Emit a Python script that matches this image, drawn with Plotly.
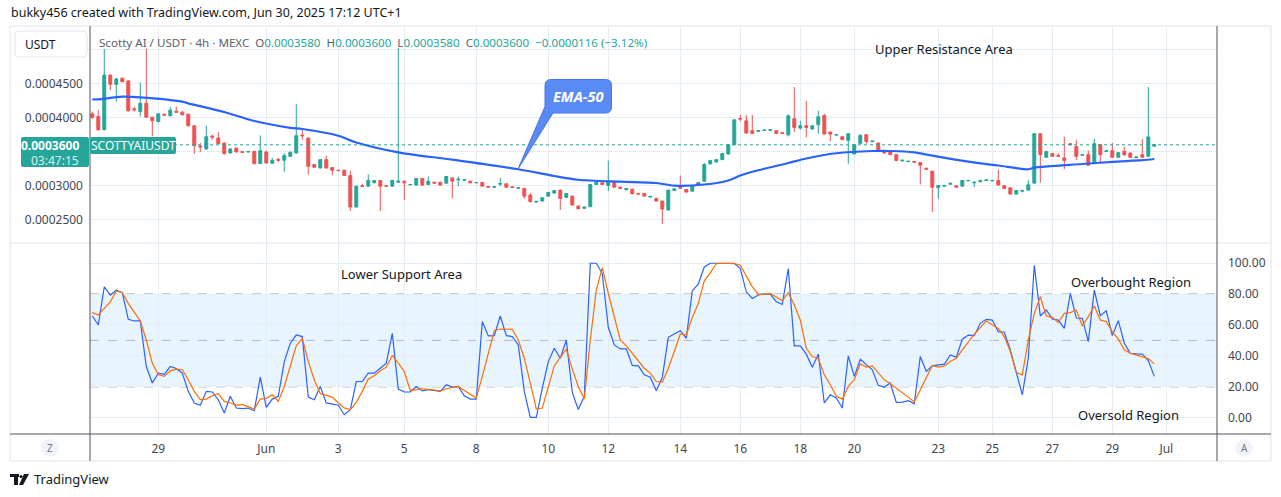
import plotly.graph_objects as go

W, H = 1281, 497


def X(px):
    return px / W


def Y(py):
    return 1 - py / H


# ---------------- data (4h candles, Scotty AI / USDT) ----------------
open_ = [
    0.0004053, 0.0004014, 0.0003820, 0.0004621, 0.0004485, 0.0004573, 0.0004534, 0.0004126, 0.0004087, 0.0004209,
    0.0004005, 0.0003942, 0.0004048, 0.0004024, 0.0004092, 0.0004077, 0.0004048, 0.0003879, 0.0003582, 0.0003539,
    0.0003728, 0.0003699, 0.0003626, 0.0003480, 0.0003553, 0.0003500, 0.0003495, 0.0003505, 0.0003325, 0.0003495,
    0.0003330, 0.0003388, 0.0003374, 0.0003432, 0.0003480, 0.0003743, 0.0003699, 0.0003311, 0.0003262, 0.0003383,
    0.0003267, 0.0003228, 0.0003228, 0.0003150, 0.0002689, 0.0003000, 0.0002995, 0.0003044, 0.0003078, 0.0003000,
    0.0002995, 0.0003053, 0.0003068, 0.0003014, 0.0003010, 0.0003107, 0.0003019, 0.0003053, 0.0003053, 0.0003039,
    0.0003116, 0.0003087, 0.0003082, 0.0003068, 0.0003044, 0.0003048, 0.0002990, 0.0002980, 0.0003024, 0.0003029,
    0.0002985, 0.0002966, 0.0002961, 0.0002864, 0.0002762, 0.0002777, 0.0002849, 0.0002893, 0.0002937, 0.0002830,
    0.0002849, 0.0002704, 0.0002670, 0.0002694, 0.0003019, 0.0003044, 0.0003005, 0.0003053, 0.0002980, 0.0002942,
    0.0002951, 0.0002888, 0.0002888, 0.0002835, 0.0002816, 0.0002777, 0.0002646, 0.0002932, 0.0002976, 0.0002946,
    0.0002922, 0.0003010, 0.0003068, 0.0003320, 0.0003349, 0.0003383, 0.0003466, 0.0003602, 0.0003985, 0.0003951,
    0.0003806, 0.0003796, 0.0003811, 0.0003811, 0.0003806, 0.0003777, 0.0003747, 0.0003980, 0.0003845, 0.0003879,
    0.0003830, 0.0003893, 0.0004029, 0.0003786, 0.0003743, 0.0003718, 0.0003665, 0.0003466, 0.0003621, 0.0003747,
    0.0003646, 0.0003626, 0.0003519, 0.0003495, 0.0003456, 0.0003364, 0.0003354, 0.0003354, 0.0003340, 0.0003257,
    0.0003214, 0.0002971, 0.0002995, 0.0003024, 0.0003000, 0.0002995, 0.0003073, 0.0003044, 0.0003058, 0.0003078,
    0.0003073, 0.0003078, 0.0003000, 0.0002971, 0.0002879, 0.0002922, 0.0002937, 0.0003039, 0.0003762, 0.0003417,
    0.0003471, 0.0003442, 0.0003408, 0.0003616, 0.0003573, 0.0003447, 0.0003456, 0.0003325, 0.0003602, 0.0003505,
    0.0003514, 0.0003417, 0.0003505, 0.0003480, 0.0003413, 0.0003456, 0.0003432, 0.0003580,
]
close = [
    0.0004000, 0.0003820, 0.0004621, 0.0004485, 0.0004563, 0.0004524, 0.0004097, 0.0004112, 0.0004209, 0.0004005,
    0.0003951, 0.0004053, 0.0004034, 0.0004107, 0.0004077, 0.0004039, 0.0003879, 0.0003587, 0.0003568, 0.0003718,
    0.0003713, 0.0003616, 0.0003471, 0.0003539, 0.0003495, 0.0003490, 0.0003500, 0.0003325, 0.0003514, 0.0003335,
    0.0003374, 0.0003374, 0.0003442, 0.0003490, 0.0003733, 0.0003733, 0.0003286, 0.0003272, 0.0003383, 0.0003262,
    0.0003228, 0.0003223, 0.0003150, 0.0002689, 0.0002995, 0.0002990, 0.0003078, 0.0003078, 0.0002995, 0.0002995,
    0.0003078, 0.0003068, 0.0003044, 0.0003019, 0.0003107, 0.0003010, 0.0003068, 0.0003039, 0.0003010, 0.0003136,
    0.0003068, 0.0003097, 0.0003087, 0.0003044, 0.0003048, 0.0002995, 0.0002980, 0.0002985, 0.0003034, 0.0002980,
    0.0002976, 0.0002971, 0.0002849, 0.0002767, 0.0002772, 0.0002825, 0.0002903, 0.0002932, 0.0002816, 0.0002888,
    0.0002718, 0.0002665, 0.0002689, 0.0003019, 0.0003053, 0.0003019, 0.0003068, 0.0002980, 0.0002961, 0.0002961,
    0.0002883, 0.0002879, 0.0002849, 0.0002845, 0.0002777, 0.0002660, 0.0002937, 0.0002956, 0.0002966, 0.0002908,
    0.0003000, 0.0003048, 0.0003311, 0.0003369, 0.0003383, 0.0003471, 0.0003602, 0.0003966, 0.0003976, 0.0003772,
    0.0003767, 0.0003806, 0.0003815, 0.0003820, 0.0003767, 0.0003767, 0.0004024, 0.0003854, 0.0003879, 0.0003854,
    0.0003879, 0.0004010, 0.0003757, 0.0003757, 0.0003747, 0.0003675, 0.0003762, 0.0003602, 0.0003738, 0.0003650,
    0.0003655, 0.0003505, 0.0003480, 0.0003456, 0.0003369, 0.0003374, 0.0003359, 0.0003345, 0.0003301, 0.0003243,
    0.0002980, 0.0003005, 0.0003005, 0.0003034, 0.0002980, 0.0003078, 0.0003078, 0.0003053, 0.0003078, 0.0003087,
    0.0003078, 0.0003010, 0.0002961, 0.0002879, 0.0002932, 0.0002932, 0.0003014, 0.0003762, 0.0003456, 0.0003500,
    0.0003432, 0.0003432, 0.0003369, 0.0003602, 0.0003432, 0.0003456, 0.0003301, 0.0003616, 0.0003456, 0.0003514,
    0.0003417, 0.0003485, 0.0003456, 0.0003417, 0.0003422, 0.0003417, 0.0003716, 0.0003600,
]
high = [
    0.0004087, 0.0004112, 0.0005000, 0.0004625, 0.0004582, 0.0004587, 0.0004548, 0.0004160, 0.0004514, 0.0005010,
    0.0004010, 0.0004063, 0.0004053, 0.0004155, 0.0004160, 0.0004097, 0.0004053, 0.0003883, 0.0003626, 0.0003883,
    0.0003747, 0.0003786, 0.0003631, 0.0003553, 0.0003558, 0.0003505, 0.0003505, 0.0003510, 0.0003738, 0.0003514,
    0.0003408, 0.0003408, 0.0003480, 0.0003505, 0.0004194, 0.0003820, 0.0003704, 0.0003316, 0.0003388, 0.0003442,
    0.0003272, 0.0003233, 0.0003233, 0.0003223, 0.0002999, 0.0003029, 0.0003165, 0.0003083, 0.0003083, 0.0003005,
    0.0003083, 0.0005017, 0.0003073, 0.0003024, 0.0003112, 0.0003112, 0.0003136, 0.0003058, 0.0003058, 0.0003141,
    0.0003121, 0.0003136, 0.0003092, 0.0003073, 0.0003053, 0.0003053, 0.0002995, 0.0002990, 0.0003116, 0.0003034,
    0.0002990, 0.0002976, 0.0002966, 0.0002893, 0.0002777, 0.0002830, 0.0002908, 0.0002937, 0.0002942, 0.0002893,
    0.0002854, 0.0002709, 0.0002694, 0.0003024, 0.0003058, 0.0003048, 0.0003369, 0.0003058, 0.0002985, 0.0002966,
    0.0002956, 0.0002893, 0.0002893, 0.0002849, 0.0002820, 0.0002782, 0.0002942, 0.0002961, 0.0003150, 0.0002951,
    0.0003005, 0.0003053, 0.0003335, 0.0003374, 0.0003388, 0.0003480, 0.0003607, 0.0003971, 0.0004039, 0.0004039,
    0.0004039, 0.0003811, 0.0003820, 0.0003825, 0.0003811, 0.0003782, 0.0004048, 0.0004446, 0.0003951, 0.0004242,
    0.0003883, 0.0004097, 0.0004053, 0.0003791, 0.0003752, 0.0003723, 0.0003767, 0.0003607, 0.0003757, 0.0003752,
    0.0003660, 0.0003631, 0.0003524, 0.0003500, 0.0003461, 0.0003379, 0.0003364, 0.0003359, 0.0003345, 0.0003262,
    0.0003219, 0.0003010, 0.0003010, 0.0003058, 0.0003005, 0.0003083, 0.0003083, 0.0003058, 0.0003083, 0.0003092,
    0.0003083, 0.0003238, 0.0003005, 0.0002976, 0.0002937, 0.0002937, 0.0003082, 0.0003767, 0.0003767, 0.0003514,
    0.0003476, 0.0003480, 0.0003718, 0.0003621, 0.0003675, 0.0003461, 0.0003514, 0.0003689, 0.0003612, 0.0003519,
    0.0003626, 0.0003495, 0.0003573, 0.0003485, 0.0003427, 0.0003684, 0.0004446, 0.0003600,
]
low = [
    0.0003980, 0.0003806, 0.0003815, 0.0004398, 0.0004233, 0.0004514, 0.0004087, 0.0004087, 0.0004014, 0.0004000,
    0.0003723, 0.0003927, 0.0004029, 0.0004019, 0.0004072, 0.0004029, 0.0003869, 0.0003466, 0.0003495, 0.0003529,
    0.0003675, 0.0003612, 0.0003456, 0.0003476, 0.0003490, 0.0003485, 0.0003490, 0.0003311, 0.0003320, 0.0003325,
    0.0003325, 0.0003349, 0.0003199, 0.0003422, 0.0003476, 0.0003675, 0.0003165, 0.0003267, 0.0003252, 0.0003248,
    0.0003155, 0.0003218, 0.0003145, 0.0002631, 0.0002684, 0.0002985, 0.0002990, 0.0003039, 0.0002631, 0.0002990,
    0.0002990, 0.0003044, 0.0002791, 0.0003010, 0.0003005, 0.0003005, 0.0003010, 0.0003034, 0.0003005, 0.0003034,
    0.0002816, 0.0002995, 0.0003078, 0.0003039, 0.0003039, 0.0002990, 0.0002976, 0.0002976, 0.0002995, 0.0002976,
    0.0002971, 0.0002961, 0.0002811, 0.0002762, 0.0002757, 0.0002772, 0.0002845, 0.0002888, 0.0002646, 0.0002825,
    0.0002713, 0.0002660, 0.0002665, 0.0002689, 0.0003014, 0.0003014, 0.0002922, 0.0002976, 0.0002956, 0.0002937,
    0.0002879, 0.0002874, 0.0002845, 0.0002830, 0.0002772, 0.0002440, 0.0002641, 0.0002927, 0.0002961, 0.0002903,
    0.0002917, 0.0003005, 0.0003063, 0.0003316, 0.0003345, 0.0003379, 0.0003456, 0.0003597, 0.0003942, 0.0003767,
    0.0003762, 0.0003791, 0.0003806, 0.0003806, 0.0003762, 0.0003762, 0.0003723, 0.0003786, 0.0003820, 0.0003709,
    0.0003825, 0.0003762, 0.0003752, 0.0003650, 0.0003738, 0.0003670, 0.0003320, 0.0003461, 0.0003616, 0.0003616,
    0.0003641, 0.0003500, 0.0003476, 0.0003451, 0.0003364, 0.0003359, 0.0003349, 0.0003340, 0.0003019, 0.0003238,
    0.0002616, 0.0002811, 0.0002990, 0.0003019, 0.0002976, 0.0002990, 0.0003068, 0.0002980, 0.0003053, 0.0003073,
    0.0003068, 0.0003005, 0.0002956, 0.0002874, 0.0002874, 0.0002903, 0.0002932, 0.0003034, 0.0003044, 0.0003413,
    0.0003427, 0.0003427, 0.0003243, 0.0003592, 0.0003374, 0.0003442, 0.0003296, 0.0003320, 0.0003330, 0.0003500,
    0.0003413, 0.0003413, 0.0003432, 0.0003413, 0.0003408, 0.0003413, 0.0003427, 0.0003580,
]

ema_bar = [0, 1, 5, 8, 15, 16, 22, 27, 33, 35, 41, 44, 51, 60, 71, 77, 81, 88, 94, 97, 102, 106, 108, 111,
           116, 119, 124, 130, 133, 137, 140, 146, 151, 156, 157, 165, 170, 175, 177]
ema_50 = [0.0004263, 0.0004266, 0.0004304, 0.0004295, 0.0004231, 0.0004207, 0.0004080, 0.0003948, 0.0003849,
          0.0003831, 0.0003733, 0.0003634, 0.0003490, 0.0003382, 0.0003242, 0.0003143, 0.0003089, 0.0003060,
          0.0003041, 0.0003002, 0.0003019, 0.0003078, 0.0003151, 0.0003227, 0.0003334, 0.0003400, 0.0003476,
          0.0003509, 0.0003509, 0.0003490, 0.0003441, 0.0003353, 0.0003297, 0.0003242, 0.0003265, 0.0003319,
          0.0003351, 0.0003375, 0.0003392]

# Stochastic %K and %D
stoch_k = [
    66, 60, 84.7, 79.4, 82.6, 80.9, 63.7, 62.6, 62.6, 33.1,
    22.4, 28.8, 28, 33.1, 31.8, 28.8, 17, 9.5, 8, 17,
    16.6, 11.6, 3, 13.8, 6.2, 5.8, 6.2, 4.5, 26.2, 6.7,
    12, 13.8, 36.3, 48.2, 53.5, 52.5, 13.3, 11.6, 20.2, 9.5,
    8.8, 8, 1.9, 5.2, 23.4, 23.4, 28.8, 28.8, 32, 35.3,
    54.6, 18.5, 16.6, 16.6, 20.2, 17.4, 18.1, 17.6, 17, 21.3,
    19.8, 20.2, 14.2, 12, 12, 62.2, 52.9, 53.1, 65.8, 53.1,
    52.5, 47.1, 17, 0.2, 0.2, 19.1, 36.3, 44.9, 38.5, 50.3,
    16.3, 5.2, 13.8, 100, 100, 93.3, 58.5, 47.1, 44.5, 44.5,
    33.8, 33.5, 27.7, 26.2, 17.4, 26, 52, 54.2, 56.3, 51.4,
    82.2, 86.5, 97.6, 100, 100, 99.8, 99.8, 100, 96.6, 81.5,
    77.2, 79.4, 80, 80, 75.1, 73.3, 96.6, 46.5, 46.5, 41.1,
    32.7, 41.1, 9.5, 14.8, 12.7, 6.2, 40, 26.7, 37.8, 34.2,
    31, 20.9, 19.8, 22.4, 9.9, 10.1, 11, 9, 39.6, 29.9,
    33.5, 34.2, 34.6, 40.6, 39.1, 50.8, 53.5, 53.1, 61.1, 63.7,
    63.2, 55.7, 55.3, 43.9, 29.9, 14.8, 38.5, 98.7, 65.8, 69.7,
    63.9, 63.2, 57.8, 80.4, 64.5, 64.3, 49.2, 82.6, 66, 69.2,
    53.1, 62.8, 48.2, 41.7, 41.3, 41.1, 37, 26.7,
]
stoch_d = [
    68, 66.5, 70.8, 75, 82, 80.9, 74, 68.6, 62.6, 50.3,
    35.3, 27.7, 26.7, 30.3, 31.4, 31, 24.5, 17, 11.6, 12,
    14.2, 15.5, 10.5, 9.5, 8, 8.6, 7.3, 5.6, 12, 12.5,
    14.8, 10.5, 20.2, 34.2, 46.5, 51.4, 36.3, 24.5, 15.5, 14.4,
    13.3, 9.5, 6.2, 5.2, 9.9, 17, 25, 27.1, 30.3, 32.7,
    40.2, 35.3, 29.9, 17.6, 18.1, 18.7, 18.3, 17.8, 17.4, 18.7,
    19.6, 20.2, 17.6, 15.3, 12.7, 26.7, 41.7, 56.3, 57.4, 57.2,
    57.2, 50.3, 38.5, 22.4, 5.6, 6.2, 19.1, 33.5, 39.1, 44.3,
    31.4, 20.2, 12, 50.3, 82.6, 97.2, 80.4, 65.4, 50.3, 46.5,
    41.7, 37.4, 32, 28.8, 23.4, 23, 32, 42.8, 54.2, 53.5,
    64.9, 74, 88.6, 93.8, 99.8, 100, 100, 99.8, 98.7, 91.6,
    84.7, 79.8, 79.8, 80.4, 78.3, 75.7, 80.9, 72.9, 63.2, 44.9,
    39.6, 38.3, 27.7, 21.3, 13.8, 12, 20.2, 24.5, 34.8, 32.7,
    33.5, 28.8, 24.5, 21.9, 19.1, 16.3, 13.3, 10.1, 18.1, 25.6,
    33.8, 32.7, 33.5, 36.3, 38.5, 43.9, 49.2, 54, 58.3, 62.6,
    60, 57.8, 52.5, 42.8, 29.2, 27.7, 50.3, 67.5, 78.3, 65.8,
    64.9, 61.5, 67.5, 68, 69.7, 59.4, 65.4, 72.3, 63.2, 62.2,
    55.7, 50.8, 43.9, 41.7, 40.5, 39.6, 38.3, 34.8,
]

bars = list(range(len(close)))

# time axis labels (bar index where each day starts)
tick_bar = [11, 29, 41, 52, 64, 76, 86, 98, 108, 118, 127, 141, 150, 160, 170, 179]
tick_text = ["29", "Jun", "3", "5", "8", "10", "12", "14", "16", "18", "20", "23", "25", "27", "29", "Jul"]

price_ticks = [0.00025, 0.0003, 0.00035, 0.0004, 0.00045, 0.0005]
price_tick_text = ["0.0002500", "0.0003000", "", "0.0004000", "0.0004500", ""]
stoch_ticks = [0, 20, 40, 60, 80, 100]
stoch_tick_text = ["0.00", "20.00", "40.00", "60.00", "80.00", "100.00"]

last_price = 0.00036

# ---------------- style ----------------
UP = "#26A69A"
DOWN = "#EF5350"
BLUE = "#2962FF"
ORANGE = "#FF6D00"
GRID = "#E6ECF3"
AXIS_LINE = "#50535E"
BORDER = "#E0E3EB"
TXT = "#131722"
LBL = "#434651"
FONT = "Noto Sans"

PLOT_L, PLOT_R = 90, 1217
MAIN_T, MAIN_B = 27, 243
OSC_B = 434

fig = go.Figure()
fig.add_trace(go.Candlestick(
    x=bars, open=open_, high=high, low=low, close=close,
    xaxis="x", yaxis="y",
    increasing=dict(line=dict(color=UP, width=1), fillcolor=UP),
    decreasing=dict(line=dict(color=DOWN, width=1), fillcolor=DOWN),
    whiskerwidth=0, hoverinfo="skip", showlegend=False,
))
fig.add_trace(go.Scatter(
    x=ema_bar, y=ema_50, mode="lines", xaxis="x", yaxis="y",
    line=dict(color=BLUE, width=2.2, shape="spline", smoothing=0.8), hoverinfo="skip", showlegend=False,
))
fig.add_trace(go.Scatter(
    x=bars, y=stoch_k, mode="lines", xaxis="x2", yaxis="y2",
    line=dict(color=BLUE, width=1.2), hoverinfo="skip", showlegend=False,
))
fig.add_trace(go.Scatter(
    x=bars, y=stoch_d, mode="lines", xaxis="x2", yaxis="y2",
    line=dict(color=ORANGE, width=1.2), hoverinfo="skip", showlegend=False,
))

xdom = [X(PLOT_L), X(PLOT_R)]
xrange = [-0.38, 187.45]

shapes = []
# stochastic band and levels
shapes.append(dict(type="rect", xref="paper", yref="y2", x0=xdom[0], x1=xdom[1], y0=20, y1=80,
                   fillcolor="rgba(33,150,243,0.10)", line=dict(width=0), layer="below"))
for lvl, col in [(80, "#787B86"), (20, "#787B86"), (50, "rgba(120,123,134,0.5)")]:
    shapes.append(dict(type="line", xref="paper", yref="y2", x0=xdom[0], x1=xdom[1], y0=lvl, y1=lvl,
                       line=dict(color=col, width=1, dash="dash"), layer="below"))
# last price dotted line
shapes.append(dict(type="line", xref="paper", yref="y", x0=xdom[0], x1=xdom[1], y0=last_price, y1=last_price,
                   line=dict(color=UP, width=1, dash="dot"), layer="above"))
# frame
shapes.append(dict(type="rect", xref="paper", yref="paper", x0=X(10), x1=X(1271), y0=Y(461), y1=Y(26),
                   line=dict(color=BORDER, width=1), layer="above"))
shapes.append(dict(type="line", xref="paper", yref="paper", x0=X(10), x1=X(1271), y0=Y(MAIN_B), y1=Y(MAIN_B),
                   line=dict(color=BORDER, width=1), layer="above"))
shapes.append(dict(type="line", xref="paper", yref="paper", x0=X(10), x1=X(1271), y0=Y(OSC_B), y1=Y(OSC_B),
                   line=dict(color=AXIS_LINE, width=1), layer="above"))
for xv in (PLOT_L, PLOT_R):
    shapes.append(dict(type="line", xref="paper", yref="paper", x0=X(xv), x1=X(xv), y0=Y(26), y1=Y(461),
                       line=dict(color=AXIS_LINE, width=1), layer="above"))


def rounded_rect_path(x0, y0, x1, y1, r):
    pts = [
        f"M{X(x0 + r)},{Y(y0)}", f"L{X(x1 - r)},{Y(y0)}", f"Q{X(x1)},{Y(y0)} {X(x1)},{Y(y0 + r)}",
        f"L{X(x1)},{Y(y1 - r)}", f"Q{X(x1)},{Y(y1)} {X(x1 - r)},{Y(y1)}",
        f"L{X(x0 + r)},{Y(y1)}", f"Q{X(x0)},{Y(y1)} {X(x0)},{Y(y1 - r)}",
        f"L{X(x0)},{Y(y0 + r)}", f"Q{X(x0)},{Y(y0)} {X(x0 + r)},{Y(y0)}", "Z",
    ]
    return " ".join(pts)


# USDT box
shapes.append(dict(type="path", xref="paper", yref="paper", path=rounded_rect_path(15, 31, 87, 57, 4),
                   line=dict(color=BORDER, width=1), fillcolor="white", layer="above"))
# price label box
shapes.append(dict(type="path", xref="paper", yref="paper", path=rounded_rect_path(21, 137, 89, 167, 2),
                   line=dict(color=UP, width=0), fillcolor=UP, layer="above"))
shapes.append(dict(type="path", xref="paper", yref="paper", path=rounded_rect_path(90, 137, 176, 154, 2),
                   line=dict(color=UP, width=0), fillcolor=UP, layer="above"))

# EMA-50 callout
r = 6
bx0, by0, bx1, by1 = 545, 79.5, 611.5, 113
callout = " ".join([
    f"M{X(bx0 + r)},{Y(by0)}", f"L{X(bx1 - r)},{Y(by0)}", f"Q{X(bx1)},{Y(by0)} {X(bx1)},{Y(by0 + r)}",
    f"L{X(bx1)},{Y(by1 - r)}", f"Q{X(bx1)},{Y(by1)} {X(bx1 - r)},{Y(by1)}",
    f"L{X(553)},{Y(by1)}", f"L{X(518)},{Y(169)}", f"L{X(bx0)},{Y(106.5)}",
    f"L{X(bx0)},{Y(by0 + r)}", f"Q{X(bx0)},{Y(by0)} {X(bx0 + r)},{Y(by0)}", "Z",
])
shapes.append(dict(type="path", xref="paper", yref="paper", path=callout,
                   line=dict(color="#4677E8", width=1), fillcolor="#5A8BF5", layer="above"))

# Z / A buttons
for cx in (50, 1244):
    shapes.append(dict(type="circle", xref="paper", yref="paper", x0=X(cx - 9), x1=X(cx + 9),
                       y0=Y(457), y1=Y(439), line=dict(width=0), fillcolor="#F0F3FA", layer="above"))

# TradingView logo (simple glyph)
shapes.append(dict(type="rect", xref="paper", yref="paper", x0=X(10), x1=X(19), y0=Y(477), y1=Y(474),
                   line=dict(width=0), fillcolor=TXT, layer="above"))
shapes.append(dict(type="rect", xref="paper", yref="paper", x0=X(14), x1=X(18), y0=Y(485), y1=Y(474),
                   line=dict(width=0), fillcolor=TXT, layer="above"))
shapes.append(dict(type="circle", xref="paper", yref="paper", x0=X(19.5), x1=X(22.5), y0=Y(478), y1=Y(475),
                   line=dict(width=0), fillcolor=TXT, layer="above"))
shapes.append(dict(type="path", xref="paper", yref="paper",
                   path=f"M{X(24)},{Y(474)} L{X(29)},{Y(474)} L{X(23)},{Y(485)} L{X(19)},{Y(485)} Z",
                   line=dict(width=0), fillcolor=TXT, layer="above"))


def ann(x, y, text, size=12, color=TXT, xanchor="left", yanchor="middle", **kw):
    return dict(x=X(x), y=Y(y), xref="paper", yref="paper", text=text, showarrow=False,
                xanchor=xanchor, yanchor=yanchor, font=dict(family=FONT, size=size, color=color), **kw)


G = "#5D606B"
sp = "\u00a0"
legend_txt = (
    f"<span style='color:{G}'>Scotty AI / USDT · 4h · MEXC</span>{sp * 2}"
    f"<span style='color:{G}'>O</span><span style='color:{UP}'>0.0003580</span>{sp * 2}"
    f"<span style='color:{G}'>H</span><span style='color:{UP}'>0.0003600</span>{sp * 2}"
    f"<span style='color:{G}'>L</span><span style='color:{UP}'>0.0003580</span>{sp * 2}"
    f"<span style='color:{G}'>C</span><span style='color:{UP}'>0.0003600</span>{sp * 2}"
    f"<span style='color:{UP}'>−0.0000116 (−3.12%)</span>"
)

annotations = [
    ann(9, 12, "bukky456 created with TradingView.com, Jun 30, 2025 17:12 UTC+1", size=12.5),
    ann(97, 42, legend_txt, size=11.6),
    ann(23, 44, "USDT", size=12),
    ann(81, 145, "<b>0.0003600</b>", size=12, color="white", xanchor="right"),
    ann(81, 160, "03:47:15", size=12, color="rgba(255,255,255,0.85)", xanchor="right"),
    ann(133, 145.5, "SCOTTYAIUSDT", size=12, color="white", xanchor="center"),
    ann(578, 96, "<b><i>EMA-50</i></b>", size=14.5, color="white", xanchor="center"),
    ann(944, 49, "Upper Resistance Area", size=13, xanchor="center"),
    ann(401.5, 274, "Lower Support Area", size=13, xanchor="center"),
    ann(1131, 281.5, "Overbought Region", size=13, xanchor="center"),
    ann(1128, 415, "Oversold Region", size=13, xanchor="center"),
    ann(50, 448, "Z", size=10, color="#787B86", xanchor="center"),
    ann(1244, 448, "A", size=10, color="#787B86", xanchor="center"),
    ann(32, 479, "TradingView", size=13, color=TXT),
]

fig.update_layout(
    width=W, height=H, autosize=False,
    margin=dict(l=0, r=0, t=0, b=0, pad=0),
    paper_bgcolor="white", plot_bgcolor="white",
    showlegend=False, hovermode=False,
    font=dict(family=FONT, size=12, color=LBL),
    xaxis=dict(domain=xdom, anchor="y", range=xrange, rangeslider=dict(visible=False),
               tickvals=tick_bar, ticktext=tick_text, showticklabels=False,
               showgrid=True, gridcolor=GRID, gridwidth=1, zeroline=False, showline=False, ticks=""),
    xaxis2=dict(domain=xdom, anchor="y2", range=xrange,
                tickvals=tick_bar, ticktext=tick_text, showticklabels=True,
                tickfont=dict(family=FONT, size=12, color=LBL),
                showgrid=True, gridcolor=GRID, gridwidth=1, zeroline=False, showline=False, ticks="",
                ticklabelstandoff=6),
    yaxis=dict(domain=[Y(MAIN_B), Y(MAIN_T)], anchor="x", range=[0.0002163, 0.0005324], side="left",
               tickvals=price_ticks, ticktext=price_tick_text,
               tickfont=dict(family=FONT, size=12, color=LBL),
               showgrid=True, gridcolor=GRID, gridwidth=1, zeroline=False, showline=False, ticks="",
               ticklabelstandoff=6),
    yaxis2=dict(domain=[Y(OSC_B), Y(MAIN_B)], anchor="x2", range=[-10.6, 113.1], side="right",
                tickvals=stoch_ticks, ticktext=stoch_tick_text,
                tickfont=dict(family=FONT, size=12, color=LBL),
                showgrid=True, gridcolor=GRID, gridwidth=1, zeroline=False, showline=False, ticks="",
                ticklabelstandoff=10),
    shapes=shapes,
    annotations=annotations,
)

fig.write_html("out.html")
